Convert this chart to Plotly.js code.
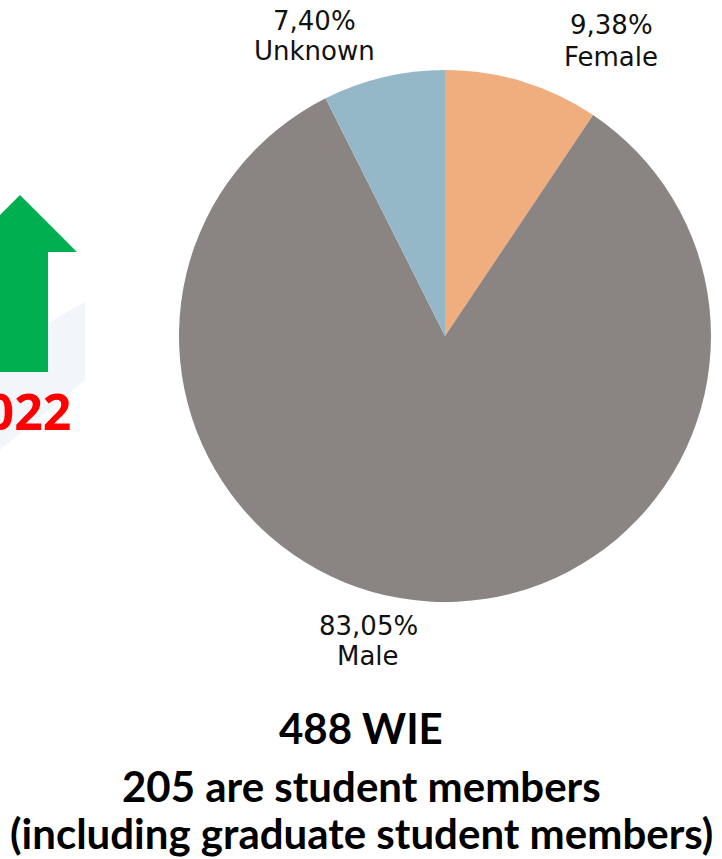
<!DOCTYPE html>
<html>
<head>
<meta charset="utf-8">
<script src="https://cdn.plot.ly/plotly-3.0.1.min.js"></script>
<style>
  body { margin: 0; background: #ffffff; }
  #myChart { width: 722px; height: 859px; }
</style>
</head>
<body>
<div id="myChart"></div>
<script>
// gender split of WIE members (percent)
var labels = ['Female', 'Male', 'Unknown'];
var shares = [9.38, 83.05, 7.40];
var colors = ['#f0ad7e', '#8a8583', '#94b8c8'];

var total_wie = 488;
var student_members = 205;
var year_txt = '2022';

var W = 722, H = 859;
function px(x) { return x / W; }
function py(y) { return 1 - y / H; }

function fmt_pct(v) {
    return v.toFixed(2).replace('.', ',') + '%';
}

// pixel path -> paper path
function path_px(pts) {
    var s = '';
    for (var i = 0; i < pts.length; i++) {
        s += (i == 0 ? 'M ' : ' L ') + px(pts[i][0]).toFixed(4) + ',' + py(pts[i][1]).toFixed(4);
    }
    return s + ' Z';
}

var trace = {
    type: 'pie',
    labels: labels,
    values: shares,
    sort: false,
    direction: 'clockwise',
    rotation: 0,
    textinfo: 'none',
    hoverinfo: 'label+percent',
    marker: { colors: colors, line: { width: 0 } },
    domain: { x: [px(178), px(712)], y: [py(602), py(70)] }
};

// where each slice label sits (pixels): x, y of percent line, y of name line
var label_pos = [[611, 25, 57], [368, 626, 656], [314, 21, 51]];
var lbl_font = { family: 'DejaVu Sans', size: 26, color: '#111111' };
var annotations = [];
for (var i = 0; i < labels.length; i++) {
    annotations.push({
        xref: 'paper', yref: 'paper',
        x: px(label_pos[i][0]), y: py(label_pos[i][1]),
        xanchor: 'center', yanchor: 'middle',
        text: fmt_pct(shares[i]),
        showarrow: false, font: lbl_font
    });
    annotations.push({
        xref: 'paper', yref: 'paper',
        x: px(label_pos[i][0]), y: py(label_pos[i][2]),
        xanchor: 'center', yanchor: 'middle',
        text: labels[i],
        showarrow: false, font: lbl_font
    });
}

var big_font = { family: 'Lato', size: 42, color: '#000000' };
var bottom_lines = [
    total_wie + ' WIE',
    student_members + ' are student members',
    '(including graduate student members)'
];
var bottom_y = [728, 786, 833];
for (var j = 0; j < bottom_lines.length; j++) {
    annotations.push({
        xref: 'paper', yref: 'paper',
        x: px(361), y: py(bottom_y[j]),
        xanchor: 'center', yanchor: 'middle',
        text: '<b>' + bottom_lines[j] + '</b>',
        showarrow: false,
        font: big_font
    });
}

// year text is partly off the left edge, as in the original slide
annotations.push({
    xref: 'paper', yref: 'paper',
    x: px(73), y: py(411),
    xanchor: 'right', yanchor: 'middle',
    text: '<b>' + year_txt + '</b>',
    showarrow: false,
    font: { family: 'Open Sans', size: 50, color: '#ff0000' }
});

var shapes = [
    {
        type: 'path', xref: 'paper', yref: 'paper', layer: 'below',
        path: path_px([[0, 350], [85, 302], [85, 380], [0, 450]]),
        fillcolor: '#f2f5fa', line: { width: 0 }
    },
    {
        type: 'path', xref: 'paper', yref: 'paper', layer: 'above',
        path: path_px([[-37, 252], [20, 195], [77, 252], [48, 252], [48, 372], [-8, 372], [-8, 252]]),
        fillcolor: '#00b050', line: { width: 0 }
    }
];

var layout = {
    width: W,
    height: H,
    margin: { l: 0, r: 0, t: 0, b: 0 },
    paper_bgcolor: '#ffffff',
    showlegend: false,
    annotations: annotations,
    shapes: shapes
};

Plotly.newPlot('myChart', [trace], layout, { displayModeBar: false, staticPlot: true });
</script>
</body>
</html>
